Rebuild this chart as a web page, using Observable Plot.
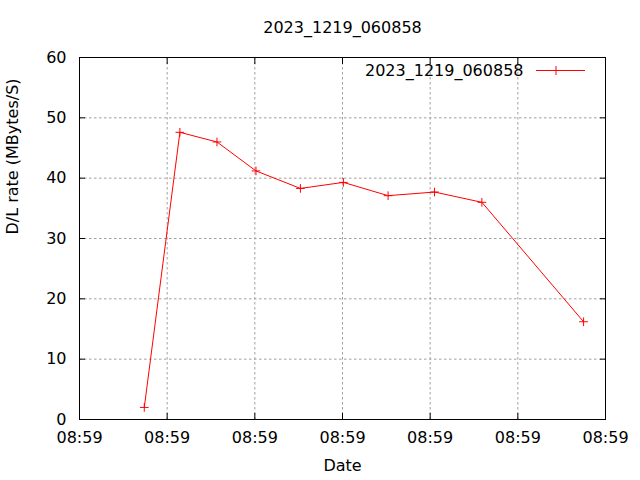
<!DOCTYPE html>
<html><head><meta charset="utf-8">
<script src="https://cdn.jsdelivr.net/npm/d3@7"></script>
<script src="https://cdn.jsdelivr.net/npm/@observablehq/plot@0.6"></script>
<style>body{margin:0;background:#fff} #chart{width:640px;height:480px}</style>
</head><body><div id="chart"></div>
<script>
const title = "2023_1219_060858";
const seriesName = "2023_1219_060858";
const xLabel = "Date";
const yLabel = "D/L rate (MBytes/S)";
const xTickValues = [0, 1, 2, 3, 4, 5, 6];
const xTickLabels = ["08:59", "08:59", "08:59", "08:59", "08:59", "08:59", "08:59"];
const yTickValues = [0, 10, 20, 30, 40, 50, 60];
const times = [0.739, 1.145, 1.568, 2.013, 2.52, 3.01, 3.52, 4.05, 4.59, 5.75];
const rates = [2.0, 47.6, 46.0, 41.2, 38.3, 39.3, 37.1, 37.7, 36.0, 16.2];

const data = times.map((t, i) => ({t, r: rates[i]}));
const font = "DejaVu Sans";
const fs = 16;
const grid = {stroke: "#a0a0a0", strokeOpacity: 1, strokeDasharray: "2.5,2.5", strokeWidth: 1};

const chart = Plot.plot({
  width: 640, height: 480,
  marginLeft: 79, marginRight: 35, marginTop: 57, marginBottom: 61,
  style: {fontFamily: font, fontSize: fs + "px", color: "black", background: "white"},
  x: {domain: [0, 6]},
  y: {domain: [0, 60]},
  marks: [
    Plot.gridX(xTickValues.slice(1, -1), grid),
    Plot.gridY(yTickValues.slice(1, -1), grid),
    Plot.axisX({ticks: xTickValues, tickSize: 0, tickPadding: 12.5, tickFormat: (d) => xTickLabels[xTickValues.indexOf(d)], label: null}),
    Plot.axisY({ticks: yTickValues, tickSize: 0, tickPadding: 13, label: null}),
    Plot.axisX({anchor: "bottom", ticks: xTickValues, tickSize: 6, dy: -6, tickFormat: () => "", label: null, stroke: "black"}),
    Plot.axisX({anchor: "top", ticks: xTickValues, tickSize: 6, dy: 6, tickFormat: () => "", label: null, stroke: "black"}),
    Plot.axisY({anchor: "left", ticks: yTickValues, tickSize: 6, dx: 6, tickFormat: () => "", label: null, stroke: "black"}),
    Plot.axisY({anchor: "right", ticks: yTickValues, tickSize: 6, dx: -6, tickFormat: () => "", label: null, stroke: "black"}),
    Plot.line(data, {x: "t", y: "r", stroke: "#ff0000", strokeWidth: 1}),
    Plot.dot(data, {x: "t", y: "r", symbol: "plus", r: 2.9, stroke: "#ff0000", strokeWidth: 1}),
    Plot.frame({stroke: "black", strokeWidth: 1}),
    Plot.text([title], {frameAnchor: "top", dy: -30, lineAnchor: "middle", fontSize: fs, fill: "black"}),
    Plot.text([xLabel], {frameAnchor: "bottom", dy: 46, lineAnchor: "middle", fontSize: fs, fill: "black"}),
    Plot.text([yLabel], {frameAnchor: "left", dx: -67, dy: -4, rotate: -90, lineAnchor: "middle", fontSize: fs, fill: "black"}),
    Plot.text([seriesName], {frameAnchor: "top-right", dx: -82, dy: 13, textAnchor: "end", lineAnchor: "middle", fontSize: fs, fill: "black"})
  ]
});
document.getElementById("chart").appendChild(chart);

// legend swatch (line + marker) placed relative to the plot frame
const svg = d3.select(chart);
const fx = 640 - 35, fy = 57;
const g = svg.append("g").attr("stroke", "#ff0000").attr("stroke-width", 1).attr("fill", "none");
g.append("line").attr("x1", fx - 69).attr("x2", fx - 20).attr("y1", fy + 13.5).attr("y2", fy + 13.5);
g.append("path").attr("d", `M${fx - 49},${fy + 9}V${fy + 18}M${fx - 53.5},${fy + 13.5}H${fx - 44.5}`);
</script>
</body></html>
